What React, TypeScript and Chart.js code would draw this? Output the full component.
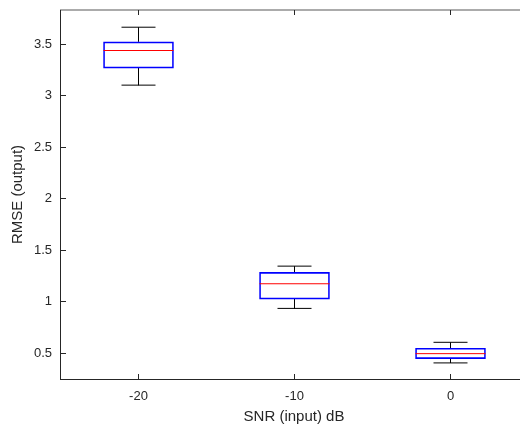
import React, { useEffect, useRef } from 'react';
import { Chart, registerables } from 'chart.js';

Chart.register(...registerables);

// ---- data ----
const groups = [-20, -10, 0];
const xTickLabels = ['-20', '-10', '0'];
const yTicks = [0.5, 1, 1.5, 2, 2.5, 3, 3.5];
const whiskerHigh = [3.663, 1.345, 0.606];
const upperQuartile = [3.521, 1.284, 0.548];
const medians = [3.437, 1.174, 0.496];
const lowerQuartile = [3.266, 1.025, 0.448];
const whiskerLow = [3.101, 0.935, 0.406];

const TEXT = '#262626';
const FONT = "'Liberation Sans', Arial, Helvetica, sans-serif";

const matlabAxes = {
  id: 'matlabAxes',
  afterDraw(chart: any) {
    const { ctx, chartArea, scales } = chart;
    const { left, right, top, bottom } = chartArea;
    const x = scales.x;
    const y = scales.y;
    ctx.save();
    // light top border
    ctx.strokeStyle = '#ababab';
    ctx.lineWidth = 2;
    ctx.beginPath();
    ctx.moveTo(left, top);
    ctx.lineTo(right, top);
    ctx.stroke();
    // axes lines
    ctx.strokeStyle = TEXT;
    ctx.lineWidth = 1;
    ctx.beginPath();
    ctx.moveTo(left + 0.5, top);
    ctx.lineTo(left + 0.5, bottom + 1);
    ctx.moveTo(left, bottom + 0.5);
    ctx.lineTo(right, bottom + 0.5);
    // inward ticks
    yTicks.forEach((v) => {
      const py = Math.floor(y.getPixelForValue(v)) + 0.5;
      ctx.moveTo(left, py);
      ctx.lineTo(left + 6, py);
    });
    groups.forEach((g) => {
      const px = Math.floor(x.getPixelForValue(g)) + 0.5;
      ctx.moveTo(px, bottom);
      ctx.lineTo(px, bottom - 5);
      ctx.moveTo(px, top);
      ctx.lineTo(px, top + 5);
    });
    ctx.stroke();
    ctx.restore();
  },
};

export default function App() {
  const ref = useRef<HTMLCanvasElement | null>(null);

  useEffect(() => {
    if (!ref.current) return;

    const boxes = groups.map((g, i) => ({ x: g, y: [lowerQuartile[i], upperQuartile[i]] }));
    const whiskers: any[] = [];
    groups.forEach((g, i) => {
      whiskers.push({ x: g, y: upperQuartile[i] });
      whiskers.push({ x: g, y: whiskerHigh[i] });
      whiskers.push({ x: g, y: null });
      whiskers.push({ x: g, y: lowerQuartile[i] });
      whiskers.push({ x: g, y: whiskerLow[i] });
      whiskers.push({ x: g, y: null });
    });
    const caps: any[] = [];
    groups.forEach((g, i) => {
      caps.push({ x: g, y: whiskerHigh[i] });
      caps.push({ x: g, y: whiskerLow[i] });
    });
    const medianPts = groups.map((g, i) => ({ x: g, y: medians[i] }));

    const chart = new Chart(ref.current, {
      type: 'bar',
      data: {
        datasets: [
          {
            type: 'line',
            label: 'whiskers',
            data: whiskers,
            borderColor: '#000000',
            borderWidth: 1,
            pointRadius: 0,
            spanGaps: false,
            order: 3,
          } as any,
          {
            type: 'bar',
            label: 'box',
            data: boxes,
            backgroundColor: 'rgba(0,0,0,0)',
            borderColor: '#0000ff',
            borderWidth: 1,
            borderSkipped: false,
            barThickness: 70,
            order: 2,
          } as any,
          {
            type: 'scatter',
            label: 'caps',
            data: caps,
            pointStyle: 'line',
            pointRadius: 17,
            borderColor: '#000000',
            borderWidth: 1,
            showLine: false,
            order: 1,
          } as any,
          {
            type: 'scatter',
            label: 'median',
            data: medianPts,
            pointStyle: 'line',
            pointRadius: 35,
            borderColor: '#ff0000',
            borderWidth: 1,
            showLine: false,
            order: 0,
          } as any,
        ],
      },
      options: {
        animation: false,
        responsive: false,
        maintainAspectRatio: false,
        layout: { autoPadding: false, padding: { top: 10, right: 12, left: 0, bottom: 0 } },
        plugins: {
          legend: { display: false },
          tooltip: { enabled: false },
        },
        scales: {
          x: {
            type: 'linear',
            min: -25 - 0.5 / 15.6,
            max: 5 - 0.5 / 15.6,
            offset: false,
            grid: { display: false, drawTicks: false },
            border: { display: false },
            afterBuildTicks: (s: any) => {
              s.ticks = groups.map((v) => ({ value: v }));
            },
            afterFit: (s: any) => {
              s.height = 49;
              s.paddingLeft = 0;
              s.paddingRight = 0;
            },
            ticks: {
              color: TEXT,
              font: { family: FONT, size: 13 },
              padding: 10,
              maxRotation: 0,
              autoSkip: false,
              callback: (_v: any, i: number) => xTickLabels[i],
            },
            title: {
              display: true,
              text: 'SNR (input) dB',
              color: TEXT,
              font: { family: FONT, size: 15 },
              padding: { top: 0, bottom: 2 },
            },
          },
          y: {
            type: 'linear',
            min: 0.25,
            max: 3.83,
            grid: { display: false, drawTicks: false },
            border: { display: false },
            afterBuildTicks: (s: any) => {
              s.ticks = yTicks.map((v) => ({ value: v }));
            },
            afterFit: (s: any) => {
              s.width = 60;
              s.paddingTop = 0;
              s.paddingBottom = 0;
            },
            ticks: {
              color: TEXT,
              font: { family: FONT, size: 13 },
              padding: 8,
              autoSkip: false,
              callback: (v: any) => String(v),
            },
            title: {
              display: true,
              text: 'RMSE (output)',
              color: TEXT,
              font: { family: FONT, size: 15 },
              padding: { top: 9, bottom: 0 },
            },
          },
        },
      } as any,
      plugins: [matlabAxes],
    });

    return () => chart.destroy();
  }, []);

  return (
    <div
      style={{
        position: 'fixed',
        left: 0,
        top: 0,
        width: 520,
        height: 428,
        overflow: 'hidden',
        background: '#ffffff',
      }}
    >
      <canvas ref={ref} width={540} height={428} style={{ display: 'block' }} />
    </div>
  );
}
